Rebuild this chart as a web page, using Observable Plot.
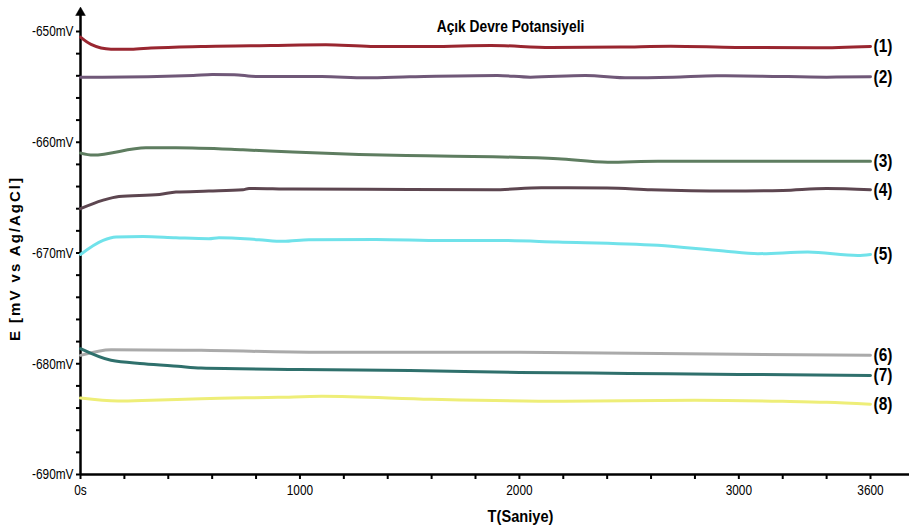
<!DOCTYPE html>
<html>
<head>
<meta charset="utf-8">
<script src="https://cdn.jsdelivr.net/npm/d3@7"></script>
<script src="https://cdn.jsdelivr.net/npm/@observablehq/plot@0.6"></script>
<style>
  html, body { margin: 0; padding: 0; background: #fff; }
  #chart svg { display: block; }
</style>
</head>
<body>
<div id="chart"></div>
<script>
// ---- Data ----
const title = "Açık Devre Potansiyeli";
const xLabel = "T(Saniye)";
const yLabel = "E [mV vs Ag/AgCl]";
const seriesNames = ["(1)", "(2)", "(3)", "(4)", "(5)", "(6)", "(7)", "(8)"];
const seriesColors = ["#992630", "#705878", "#5e7d60", "#5d4650", "#70e2ea", "#aaaaaa", "#2f706c", "#eeee78"];

const t1 = [0, 48, 139, 230, 321, 549, 868, 1118, 1323, 1597, 1870, 2144, 2463, 2690, 2986, 3351, 3600];
const e1 = [-650.51, -651.17, -651.60, -651.60, -651.49, -651.35, -651.26, -651.20, -651.35, -651.35, -651.26, -651.44, -651.40, -651.33, -651.44, -651.47, -651.35];

const t2 = [0, 100, 514, 600, 700, 800, 1100, 1300, 1500, 1900, 2050, 2300, 2500, 2700, 2900, 3100, 3400, 3600];
const e2 = [-654.12, -654.12, -653.97, -653.88, -653.90, -654.06, -654.06, -654.18, -654.09, -653.97, -654.12, -653.97, -654.18, -654.12, -654.00, -654.03, -654.12, -654.09];

const t3 = [0, 57, 298, 435, 740, 968, 1269, 1574, 1879, 2175, 2403, 2631, 3000, 3600];
const e3 = [-660.98, -661.16, -660.50, -660.50, -660.68, -660.89, -661.10, -661.22, -661.31, -661.49, -661.80, -661.71, -661.71, -661.71];

const t4 = [0, 100, 175, 360, 435, 585, 740, 768, 968, 1500, 1880, 2100, 2400, 2600, 2950, 3200, 3400, 3600];
const e4 = [-666.00, -665.25, -664.89, -664.71, -664.50, -664.41, -664.29, -664.17, -664.23, -664.26, -664.29, -664.11, -664.13, -664.29, -664.41, -664.35, -664.17, -664.29];

const t5 = [0, 103, 162, 285, 435, 585, 631, 813, 923, 1041, 1346, 1651, 1870, 2175, 2631, 2932, 3087, 3314, 3542, 3600];
const e5 = [-670.13, -668.86, -668.56, -668.50, -668.62, -668.71, -668.62, -668.80, -668.95, -668.80, -668.77, -668.86, -668.86, -669.01, -669.31, -669.83, -670.06, -669.92, -670.22, -670.13];

const t6 = [0, 140, 550, 1100, 2000, 3000, 3600];
const e6 = [-679.24, -678.73, -678.79, -678.97, -678.97, -679.15, -679.24];

const t7 = [0, 139, 289, 444, 549, 1000, 1500, 2000, 2500, 3000, 3600];
const e7 = [-678.64, -679.69, -679.99, -680.23, -680.39, -680.51, -680.60, -680.78, -680.87, -680.96, -681.05];

const t8 = [0, 171, 321, 549, 900, 1100, 1600, 2200, 2800, 3200, 3400, 3600];
const e8 = [-683.10, -683.37, -683.30, -683.15, -683.03, -682.94, -683.21, -683.39, -683.30, -683.39, -683.48, -683.66];

const xTicks = d3.range(0, 3601, 200);
const xTickLabels = {0: "0s", 1000: "1000", 2000: "2000", 3000: "3000", 3600: "3600"};
const yTicks = d3.range(-690, -649, 2);
const yTickLabels = {"-690": "-690mV", "-680": "-680mV", "-670": "-670mV", "-660": "-660mV", "-650": "-650mV"};

// ---- Build table ----
const times = [t1, t2, t3, t4, t5, t6, t7, t8];
const vals = [e1, e2, e3, e4, e5, e6, e7, e8];
const rows = [];
times.forEach((ts, i) => ts.forEach((t, j) => rows.push({t, e: vals[i][j], s: seriesNames[i]})));
const ends = times.map((ts, i) => ({t: ts[ts.length - 1], e: vals[i][vals[i].length - 1], s: seriesNames[i]}));

const font = "'Liberation Sans', Arial, sans-serif";

// y label anchored in data space left of the axis
const yLabelPos = [{x: -296, y: -670.5, text: yLabel}];

const chart = Plot.plot({
  width: 909,
  height: 529,
  marginLeft: 80,
  marginRight: 39,
  marginTop: 31,
  marginBottom: 55,
  style: {fontFamily: font, fontSize: "15px", color: "#000", background: "#fff"},
  x: {domain: [0, 3600], axis: null},
  y: {domain: [-690, -650], axis: null},
  color: {domain: seriesNames, range: seriesColors},
  marks: [
    Plot.axisX({ticks: xTicks, tickFormat: d => xTickLabels[d] ?? "", tickSize: 5, tickPadding: 5,
      strokeWidth: 2, fontSize: 15, label: null, className: "tick-narrow"}),
    Plot.axisY({ticks: yTicks, tickFormat: d => yTickLabels[d] ?? "", tickSize: 4, tickPadding: 3,
      strokeWidth: 2, fontSize: 15, label: null, className: "tick-narrow"}),
    Plot.ruleY([-690], {x1: 0, x2: 3780, stroke: "#000", strokeWidth: 2.5}),
    Plot.ruleX([0], {y1: -690, y2: -648.3, stroke: "#000", strokeWidth: 2.5}),
    Plot.dot([{x: 0, y: -648.3}], {x: "x", y: "y", symbol: "triangle", r: 3.6, fill: "#000", stroke: "#000", strokeWidth: 0.5}),
    Plot.line(rows, {x: "t", y: "e", z: "s", stroke: "s", strokeWidth: 3, curve: "monotone-x"}),
    Plot.text(ends, {x: "t", y: "e", text: "s", dx: 3, textAnchor: "start", fontSize: 18, fontWeight: "bold", fill: "#000"}),
    Plot.text([title], {frameAnchor: "top", dx: 35, dy: -12, fontSize: 17, fontWeight: "bold", fill: "#000", className: "title-narrow"}),
    Plot.text([xLabel], {frameAnchor: "bottom", dx: 45, dy: 47, fontSize: 17, fontWeight: "bold", fill: "#000"}),
    Plot.text(yLabelPos, {x: "x", y: "y", text: "text", rotate: -90, fontSize: 15, fontWeight: "bold", fill: "#000"})
  ]
});
// condense horizontal text (reference uses a narrow face)
d3.select(chart).selectAll("text").each(function() {
  const el = d3.select(this);
  if (this.textContent === yLabel) { el.attr("letter-spacing", "2px"); return; }
  const g = this.closest("g");
  const cls = g ? (g.getAttribute("class") || "") : "";
  const s = cls.includes("tick-narrow") ? 0.79 : cls.includes("title-narrow") ? 0.81 : 0.86;
  const tr = el.attr("transform") || "";
  el.attr("transform", tr + ` scale(${s},1)`);
});
document.getElementById("chart").appendChild(chart);
</script>
</body>
</html>
